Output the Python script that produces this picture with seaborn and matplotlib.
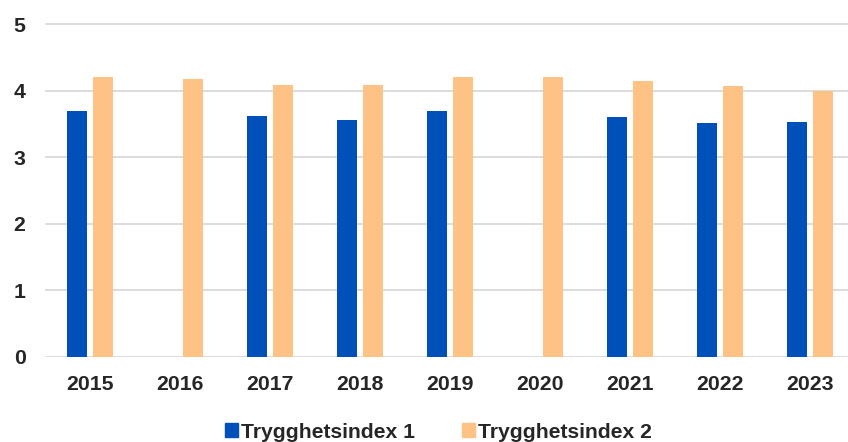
import numpy as np
import pandas as pd
import matplotlib
matplotlib.use("Agg")
import matplotlib.pyplot as plt
import seaborn as sns

years = ["2015", "2016", "2017", "2018", "2019", "2020", "2021", "2022", "2023"]
index1 = [3.69, np.nan, 3.62, 3.56, 3.69, np.nan, 3.60, 3.51, 3.52]
index2 = [4.20, 4.17, 4.09, 4.08, 4.20, 4.20, 4.14, 4.07, 3.99]
series = ["Trygghetsindex 1", "Trygghetsindex 2"]
colors = ["#0050B9", "#FFC285"]

df = pd.DataFrame({
    "year": years * 2,
    "value": index1 + index2,
    "series": [series[0]] * len(years) + [series[1]] * len(years),
})

sns.set_theme(style="white")
plt.rcParams["font.family"] = ["Liberation Sans", "DejaVu Sans"]
plt.rcParams["font.weight"] = "bold"

W, H = 848, 442
fig = plt.figure(figsize=(W / 100, H / 100), dpi=100)
ax = fig.add_axes([45 / W, 1 - 356.7 / H, (W - 45) / W, (356.7 - 20.7) / H])

sns.barplot(data=df, x="year", y="value", hue="series", order=years,
            hue_order=series, palette=colors, saturation=1, width=0.571,
            gap=0.21, ax=ax, linewidth=0, legend=True)

ax.set_xlim(-0.5, (W - 89.85) / 90)
ax.set_ylim(0, 5.05)
ax.set_yticks([0, 1, 2, 3, 4, 5])
ax.yaxis.grid(True, color="#D9D9D9", linewidth=1.3)
ax.set_axisbelow(True)
for s in ax.spines.values():
    s.set_visible(False)
ax.set_xlabel("")
ax.set_ylabel("")
ax.tick_params(axis="y", length=0, pad=14, labelsize=15.3)
ax.tick_params(axis="x", length=0, pad=13, labelsize=15.3)
for lab in ax.get_xticklabels() + ax.get_yticklabels():
    lab.set_fontweight("bold")

ax.get_legend().remove()
handles = [plt.Rectangle((0, 0), 1, 1, color=c) for c in colors]
fig.legend(handles, series, loc="center", bbox_to_anchor=(438.5 / W, 1 - 432 / H),
           ncol=2, frameon=False, prop={"size": 15.2, "weight": "bold"},
           handlelength=0.62, handleheight=0.62, handletextpad=0.15,
           columnspacing=2.2, borderpad=0, borderaxespad=0)

fig.savefig("out.png", dpi=100)
